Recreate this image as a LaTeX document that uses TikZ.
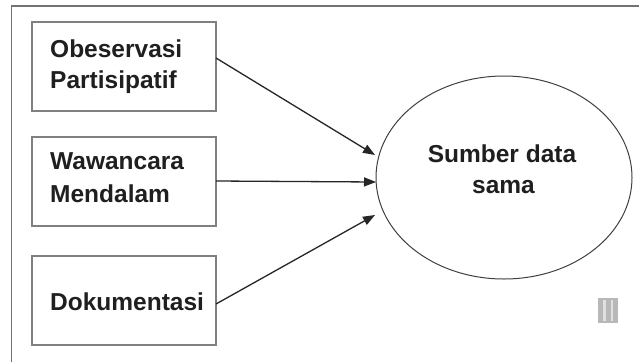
\documentclass[tikz,border=0pt]{standalone}
\usepackage{fontspec}
\setmainfont{Liberation Sans}
\usetikzlibrary{arrows.meta,shapes.geometric}
\tikzset{
  frameline/.style={draw=black!55, line width=1.6pt},
  srcbox/.style={draw=black!50, line width=1.5pt, minimum width=184pt, minimum height=89pt, inner sep=0pt},
  lbl/.style={anchor=base west, inner sep=0pt, text=black!88, font=\fontsize{24.5}{31}\selectfont\bfseries},
  clbl/.style={anchor=base, inner sep=0pt, text=black!88, font=\fontsize{24.5}{31}\selectfont\bfseries},
  target/.style={ellipse, draw=black!75, line width=1pt, minimum width=256pt, minimum height=203pt, inner sep=0pt},
  conn/.style={draw=black!85, line width=1.3pt, -{Triangle[length=12pt,width=9pt]}}
}
\begin{document}
\begin{tikzpicture}[x=1pt,y=-1pt]
\useasboundingbox (0,0) rectangle (639,362);
\fill[white] (0,0) rectangle (639,362);
% outer frame (left and top visible)
\draw[frameline] (11.5,362) -- (11.5,6) -- (639,6);
% source boxes
\node[srcbox] (b1) at (124,66.5) {};
\node[srcbox] (b2) at (124,181.5) {};
\node[srcbox] (b3) at (124,300.5) {};
\node[lbl] (t1a) at (50,57) {Obeservasi};
\node[lbl] (t1b) at (50,88) {Partisipatif};
\node[lbl] (t2a) at (50,169) {Wawancara};
\node[lbl] (t2b) at (50,202) {Mendalam};
\node[lbl] (t3) at (50,310) {Dokumentasi};
% target
\node[target] (e) at (504,177.5) {};
\node[clbl] (ea) at (502,162) {Sumber data};
\node[clbl] (eb) at (503.5,193) {sama};
% connector ends
\coordinate (s1) at (216,58);
\coordinate (s2) at (216,181);
\coordinate (s3) at (216,304);
\coordinate (e1) at (375,155);
\coordinate (e2) at (376,182);
\coordinate (e3) at (375,215);
\draw[conn] (s1) -- (e1);
\draw[conn] (s2) -- (e2);
\draw[conn] (s3) -- (e3);
% watermark mark
\fill[black!28] (598,298) rectangle (618,323);
\fill[black!12] (603,300) rectangle (606,321);
\fill[black!12] (611,300) rectangle (613,321);
\end{tikzpicture}
\end{document}
